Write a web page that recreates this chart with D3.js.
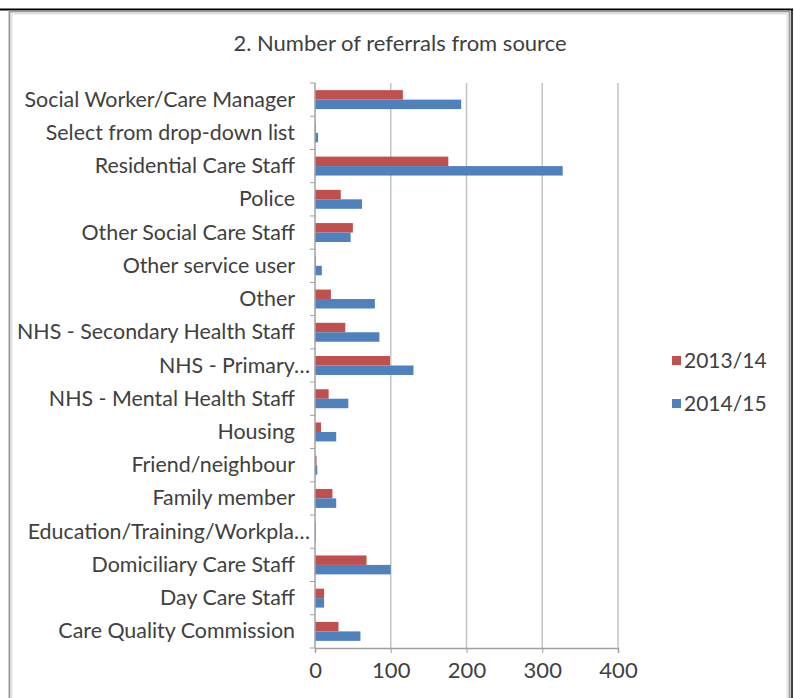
<!DOCTYPE html>
<html>
<head>
<meta charset="utf-8">
<script src="https://cdn.jsdelivr.net/npm/d3@7"></script>
<style>
  html, body { margin: 0; padding: 0; background: #fff; }
  svg { display: block; font-family: Lato, "Liberation Sans", sans-serif; }
</style>
</head>
<body>
<svg id="chart" width="795" height="698"></svg>
<script>
// Referral sources, listed top to bottom
const categories = [
  "Social Worker/Care Manager",
  "Select from drop-down list",
  "Residential Care Staff",
  "Police",
  "Other Social Care Staff",
  "Other service user",
  "Other",
  "NHS - Secondary Health Staff",
  "NHS - Primary…",
  "NHS - Mental Health Staff",
  "Housing",
  "Friend/neighbour",
  "Family member",
  "Education/Training/Workpla…",
  "Domiciliary Care Staff",
  "Day Care Staff",
  "Care Quality Commission"
];
const seriesNames = ["2013/14", "2014/15"];
const values2013 = [116, 1, 176, 34, 50, 1, 21, 40, 99, 18, 8, 2, 23, 1, 68, 12, 31];
const values2014 = [193, 4, 327, 62, 47, 9, 79, 85, 130, 44, 28, 3, 28, 1, 100, 12, 60];
const xTicks = [0, 100, 200, 300, 400];
const colors = ["#C0504D", "#4F81BD"];

const svg = d3.select("#chart");

// Outer frame
svg.append("line").attr("x1", 0).attr("x2", 793).attr("y1", 9.5).attr("y2", 9.5)
  .attr("stroke", "#000").attr("stroke-width", 2);
svg.append("line").attr("x1", 792).attr("x2", 792).attr("y1", 9).attr("y2", 698)
  .attr("stroke", "#000").attr("stroke-width", 1.5);
svg.append("rect").attr("x", 9.5).attr("y", 11.5).attr("width", 780).attr("height", 700)
  .attr("fill", "#fff").attr("stroke", "#9a9a9a").attr("stroke-width", 2);
svg.append("rect").attr("x", 11.5).attr("y", 13.5).attr("width", 776).attr("height", 700)
  .attr("fill", "none").attr("stroke", "#e2e2e2").attr("stroke-width", 2);

const plot = { left: 315, right: 618, top: 83, bottom: 648 };

const x = d3.scaleLinear().domain([0, 400]).range([plot.left, plot.right]);
const y = d3.scaleBand().domain(categories).range([plot.top, plot.bottom]).paddingInner(0.43).paddingOuter(0.215);
const ySub = d3.scaleBand().domain(seriesNames).range([0, y.bandwidth()]);

// Title
svg.append("text").attr("x", 400).attr("y", 51).attr("text-anchor", "middle")
  .attr("font-size", 22).attr("fill", "#404040")
  .text("2. Number of referrals from source");

// Vertical gridlines
svg.append("g").selectAll("line").data(xTicks.slice(1)).join("line")
  .attr("x1", d => x(d)).attr("x2", d => x(d))
  .attr("y1", plot.top).attr("y2", plot.bottom)
  .attr("stroke", "#c4c4c4").attr("stroke-width", 1.5);

// Bars
const rows = categories.map((c, i) => ({ cat: c, vals: [values2013[i], values2014[i]] }));
const g = svg.append("g");
rows.forEach(r => {
  r.vals.forEach((v, k) => {
    g.append("rect")
      .attr("x", x(0))
      .attr("y", y(r.cat) + ySub(seriesNames[k]))
      .attr("width", x(v) - x(0))
      .attr("height", ySub.bandwidth())
      .attr("fill", colors[k]);
  });
});

// Category axis (left)
const yAxisTicks = d3.range(categories.length + 1).map(i => plot.top + i * (plot.bottom - plot.top) / categories.length);
svg.append("line").attr("x1", plot.left).attr("x2", plot.left).attr("y1", plot.top).attr("y2", plot.bottom)
  .attr("stroke", "#a0a0a0").attr("stroke-width", 1.5);
svg.append("g").selectAll("line").data(yAxisTicks).join("line")
  .attr("x1", plot.left - 5).attr("x2", plot.left).attr("y1", d => d).attr("y2", d => d)
  .attr("stroke", "#a0a0a0").attr("stroke-width", 1);
// Truncated labels run closer to the axis than the full ones
svg.append("g").selectAll("text").data(categories).join("text")
  .attr("x", d => d.endsWith("…") ? 310 : 295)
  .attr("y", d => y(d) + y.bandwidth() / 2 + 7)
  .attr("text-anchor", "end").attr("font-size", 21.4).attr("fill", "#404040")
  .text(d => d);

// Value axis (bottom)
const xAxis = d3.axisBottom(x).tickValues(xTicks).tickSize(5).tickPadding(9);
const xg = svg.append("g").attr("transform", `translate(0,${plot.bottom})`).call(xAxis);
xg.select(".domain").attr("stroke", "#a0a0a0").attr("stroke-width", 1.5);
xg.selectAll(".tick line").attr("stroke", "#a0a0a0");
xg.selectAll(".tick text").attr("font-size", 22).attr("fill", "#404040")
  .attr("font-family", "Lato, 'Liberation Sans', sans-serif");

// Legend
const legend = svg.append("g");
seriesNames.forEach((name, k) => {
  const ly = 361 + k * 43;
  legend.append("rect").attr("x", 672).attr("y", ly - 5).attr("width", 9).attr("height", 9).attr("fill", colors[k]);
  legend.append("text").attr("x", 684).attr("y", ly + 7).attr("font-size", 21).attr("fill", "#404040").text(name);
});
</script>
</body>
</html>
